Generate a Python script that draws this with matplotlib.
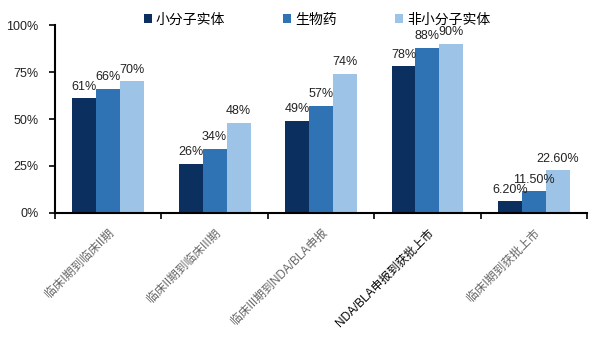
import matplotlib.pyplot as plt
import numpy as np

plt.rcParams['font.family'] = ['Liberation Sans', 'Noto Sans CJK SC']

# dados
categorias = ['临床I期到临床II期', '临床II期到临床III期', '临床III期到NDA/BLA申报',
              'NDA/BLA申报到获批上市', '临床I期到获批上市']
series = ['小分子实体', '生物药', '非小分子实体']
pequenas = [61, 26, 49, 78, 6.2]
biologicos = [66, 34, 57, 88, 11.5]
nao_pequenas = [70, 48, 74, 90, 22.6]
rotulos = [['61%', '26%', '49%', '78%', '6.20%'],
           ['66%', '34%', '57%', '88%', '11.50%'],
           ['70%', '48%', '74%', '90%', '22.60%']]

cores = ['#0b2f5e', '#2f73b5', '#9dc3e6']

fig = plt.figure(figsize=(6.04, 3.44), dpi=100)
ax = fig.add_axes([0.091, 0.381, 0.881, 0.546])

x = np.arange(len(categorias))
w = 0.225
for i, (vals, nome) in enumerate(zip([pequenas, biologicos, nao_pequenas], series)):
    pos = x + (i - 1) * w
    ax.bar(pos, vals, w, color=cores[i], label=nome)
    for p, v, t in zip(pos, vals, rotulos[i]):
        ax.text(p, v + 3, t, ha='center', va='bottom', fontsize=9, color='#222222')

ax.set_xlim(-0.5, len(categorias) - 0.5)
ax.set_ylim(0, 100)
ax.set_yticks([0, 25, 50, 75, 100])
ax.set_yticklabels(['0%', '25%', '50%', '75%', '100%'], fontsize=9, color='#222222')

ax.set_xticks(x)
ax.set_xticklabels(categorias, rotation=45, ha='right', rotation_mode='anchor',
                   fontsize=8.5, color='#666666')
ax.get_xticklabels()[3].set_color('black')
ax.tick_params(axis='x', length=0, pad=10)
ax.set_xticks(np.arange(len(categorias) + 1) - 0.5, minor=True)
ax.tick_params(axis='x', which='minor', length=4, width=1.2)
ax.tick_params(axis='y', length=4, width=1.2, direction='out', pad=8)

for s in ['top', 'right']:
    ax.spines[s].set_visible(False)
ax.spines['left'].set_linewidth(1.5)
ax.spines['bottom'].set_linewidth(1.5)

fig.legend(loc='upper center', bbox_to_anchor=(0.525, 1.0), ncol=3, frameon=False,
           fontsize=10, handlelength=0.55, handleheight=0.55, columnspacing=4.2,
           handletextpad=0.3)

fig.savefig('out.png', dpi=100)
